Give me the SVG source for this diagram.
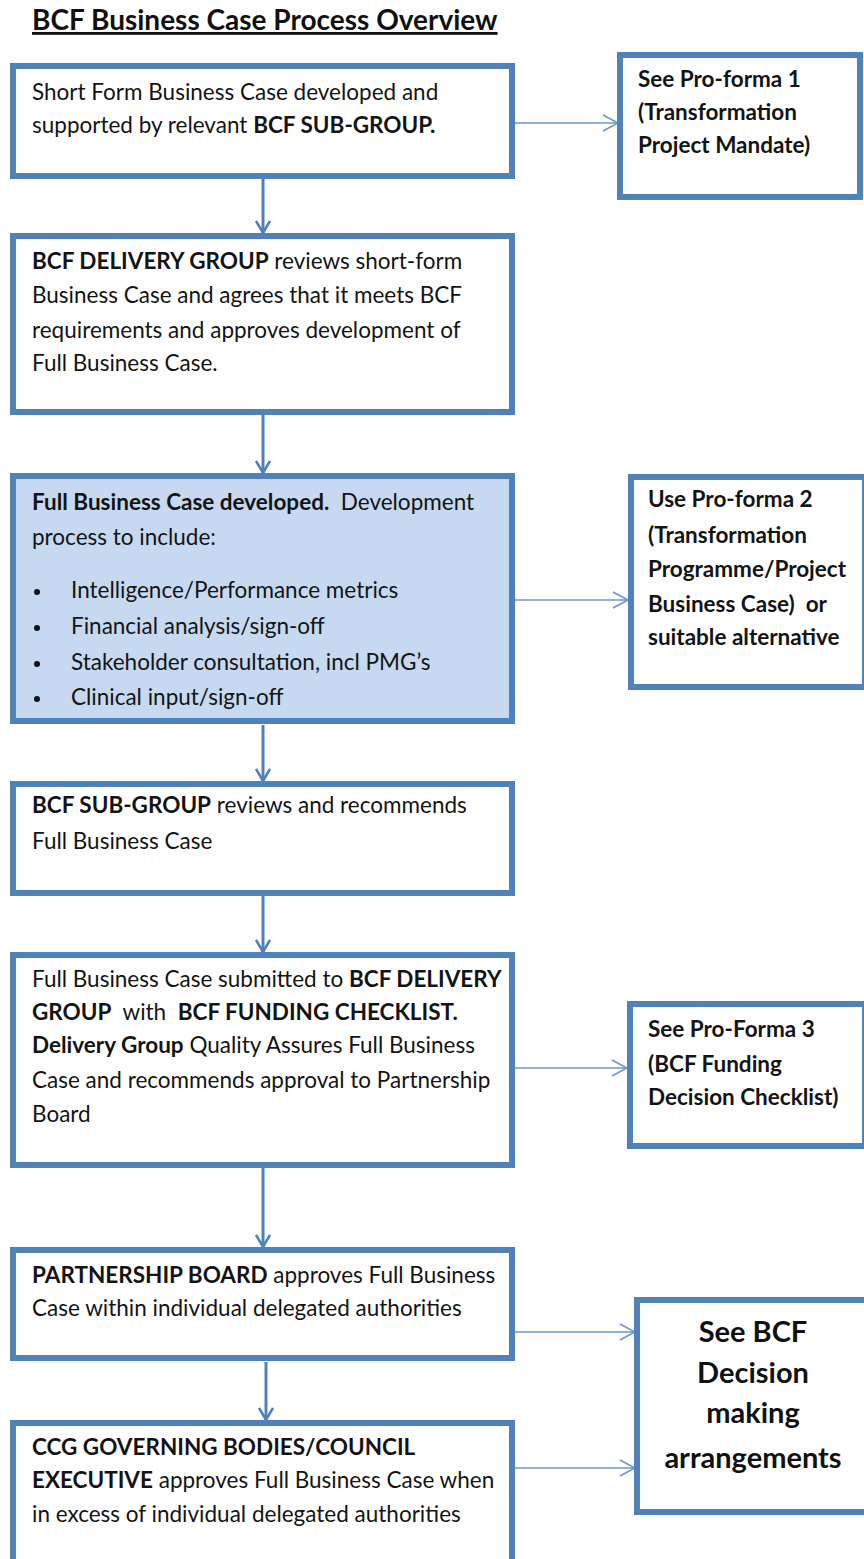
<svg xmlns="http://www.w3.org/2000/svg" width="864" height="1559" viewBox="0 0 864 1559">
<style>
  .box { fill: #ffffff; stroke: #4f81bd; stroke-width: 6; }
  .fill { fill: #c6d9f1; }
  .t { font-family: Lato, "Liberation Sans", sans-serif; font-size: 22.5px; fill: #141414; }
  .b { font-weight: bold; }
  .title { font-family: Lato, "Liberation Sans", sans-serif; font-size: 28px; font-weight: bold; fill: #111; text-decoration: underline; }
  .big { font-family: Lato, "Liberation Sans", sans-serif; font-size: 29px; font-weight: bold; fill: #111; text-anchor: middle; }
  .vc { stroke: #4f81bd; stroke-width: 3; fill: none; }
  .hc { stroke: #6f97c9; stroke-width: 1.6; fill: none; }
</style>
<defs>
  <marker id="av" viewBox="0 0 16 16" refX="13" refY="8" markerWidth="16" markerHeight="16" markerUnits="userSpaceOnUse" orient="auto">
    <path d="M1,1 L13,8 L1,15" fill="none" stroke="#4f81bd" stroke-width="2.6"/>
  </marker>
  <marker id="ah" viewBox="0 0 18 18" refX="16" refY="9" markerWidth="18" markerHeight="18" markerUnits="userSpaceOnUse" orient="auto">
    <path d="M1,1 L16,9 L1,17" fill="none" stroke="#6f97c9" stroke-width="1.6"/>
  </marker>
</defs>
<rect width="864" height="1559" fill="#ffffff"/>

<text class="title" x="32" y="30">BCF Business Case Process Overview</text>

<g id="connectors">
  <line class="vc" x1="263" y1="179" x2="263" y2="233" marker-end="url(#av)"/>
  <line class="vc" x1="263" y1="415" x2="263" y2="473" marker-end="url(#av)"/>
  <line class="vc" x1="263" y1="725" x2="263" y2="781" marker-end="url(#av)"/>
  <line class="vc" x1="263" y1="896" x2="263" y2="952" marker-end="url(#av)"/>
  <line class="vc" x1="263" y1="1168" x2="263" y2="1247" marker-end="url(#av)"/>
  <line class="vc" x1="266" y1="1362" x2="266" y2="1420" marker-end="url(#av)"/>
  <line class="hc" x1="515" y1="123" x2="618" y2="123" marker-end="url(#ah)"/>
  <line class="hc" x1="515" y1="600" x2="628" y2="600" marker-end="url(#ah)"/>
  <line class="hc" x1="515" y1="1068" x2="627" y2="1068" marker-end="url(#ah)"/>
  <line class="hc" x1="515" y1="1332" x2="635" y2="1332" marker-end="url(#ah)"/>
  <line class="hc" x1="515" y1="1468" x2="635" y2="1468" marker-end="url(#ah)"/>
</g>

<g id="n1">
  <rect class="box" x="13" y="66" width="499" height="110"/>
  <text class="t" x="32" y="100">Short Form Business Case developed and</text>
  <text class="t" x="32" y="133">supported by relevant <tspan class="b">BCF SUB-GROUP.</tspan></text>
</g>

<g id="p1">
  <rect class="box" x="620" y="55" width="240" height="142"/>
  <text class="t b" x="638" y="87">See Pro-forma 1</text>
  <text class="t b" x="638" y="120">(Transformation</text>
  <text class="t b" x="638" y="153">Project Mandate)</text>
</g>

<g id="n2">
  <rect class="box" x="13" y="236" width="499" height="176"/>
  <text class="t" x="32" y="269"><tspan class="b">BCF DELIVERY GROUP</tspan> reviews short-form</text>
  <text class="t" x="32" y="303">Business Case and agrees that it meets BCF</text>
  <text class="t" x="32" y="338">requirements and approves development of</text>
  <text class="t" x="32" y="371">Full Business Case.</text>
</g>

<g id="n3">
  <rect class="box fill" x="13" y="476" width="499" height="245"/>
  <text class="t" x="32" y="510" xml:space="preserve"><tspan class="b">Full Business Case developed.</tspan>  Development</text>
  <text class="t" x="32" y="545">process to include:</text>
  <circle cx="37" cy="592" r="3" fill="#111"/>
  <text class="t" x="71" y="598">Intelligence/Performance metrics</text>
  <circle cx="37" cy="628" r="3" fill="#111"/>
  <text class="t" x="71" y="634">Financial analysis/sign-off</text>
  <circle cx="37" cy="664" r="3" fill="#111"/>
  <text class="t" x="71" y="670">Stakeholder consultation, incl PMG’s</text>
  <circle cx="37" cy="699" r="3" fill="#111"/>
  <text class="t" x="71" y="705">Clinical input/sign-off</text>
</g>

<g id="p2">
  <rect class="box" x="631" y="477" width="234" height="210"/>
  <text class="t b" x="648" y="507">Use Pro-forma 2</text>
  <text class="t b" x="648" y="543">(Transformation</text>
  <text class="t b" x="648" y="577">Programme/Project</text>
  <text class="t b" x="648" y="612" xml:space="preserve">Business Case)  or</text>
  <text class="t b" x="648" y="645">suitable alternative</text>
</g>

<g id="n4">
  <rect class="box" x="13" y="784" width="499" height="109"/>
  <text class="t" x="32" y="813"><tspan class="b">BCF SUB-GROUP</tspan> reviews and recommends</text>
  <text class="t" x="32" y="849">Full Business Case</text>
</g>

<g id="n5">
  <rect class="box" x="13" y="955" width="499" height="210"/>
  <text class="t" x="32" y="987">Full Business Case submitted to <tspan class="b">BCF DELIVERY</tspan></text>
  <text class="t" x="32" y="1020" xml:space="preserve"><tspan class="b">GROUP</tspan>  with  <tspan class="b">BCF FUNDING CHECKLIST.</tspan></text>
  <text class="t" x="32" y="1053"><tspan class="b">Delivery Group</tspan> Quality Assures Full Business</text>
  <text class="t" x="32" y="1088">Case and recommends approval to Partnership</text>
  <text class="t" x="32" y="1122">Board</text>
</g>

<g id="p3">
  <rect class="box" x="630" y="1004" width="235" height="142"/>
  <text class="t b" x="648" y="1037">See Pro-Forma 3</text>
  <text class="t b" x="648" y="1072">(BCF Funding</text>
  <text class="t b" x="648" y="1105">Decision Checklist)</text>
</g>

<g id="n6">
  <rect class="box" x="13" y="1250" width="499" height="108"/>
  <text class="t" x="32" y="1283"><tspan class="b">PARTNERSHIP BOARD</tspan> approves Full Business</text>
  <text class="t" x="32" y="1316">Case within individual delegated authorities</text>
</g>

<g id="n7">
  <rect class="box" x="13" y="1423" width="499" height="200"/>
  <text class="t b" x="32" y="1455">CCG GOVERNING BODIES/COUNCIL</text>
  <text class="t" x="32" y="1488"><tspan class="b">EXECUTIVE</tspan> approves Full Business Case when</text>
  <text class="t" x="32" y="1522">in excess of individual delegated authorities</text>
</g>

<g id="p4">
  <rect class="box" x="637" y="1300" width="230" height="212"/>
  <text class="big" x="753" y="1342">See BCF</text>
  <text class="big" x="753" y="1383">Decision</text>
  <text class="big" x="753" y="1423">making</text>
  <text class="big" x="753" y="1468">arrangements</text>
</g>
</svg>
